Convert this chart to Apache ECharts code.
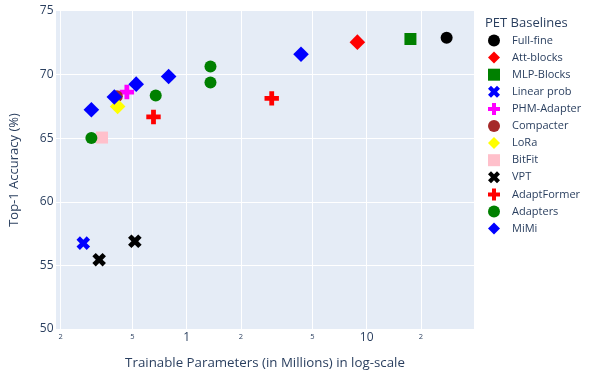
<!DOCTYPE html>
<html>
<head>
<meta charset="utf-8">
<script src="https://cdn.jsdelivr.net/npm/echarts@6/dist/echarts.min.js"></script>
<style>html,body{margin:0;padding:0;background:#fff}#c{width:590px;height:375px}</style>
</head>
<body>
<div id="c"></div>
<script>
// ---- data ----
var fullFine   = [[27.8, 72.9]];
var attBlocks  = [[8.88, 72.55]];
var mlpBlocks  = [[17.5, 72.8]];
var linearProb = [[0.267, 56.75]];
var phmAdapter = [[0.466, 68.63]];
var compacter  = [[0.41, 68.3]];
var lora       = [[0.414, 67.5]];
var bitFit     = [[0.339, 65.05]];
var vpt        = [[0.327, 55.45], [0.516, 56.9]];
var adaptFormer= [[0.655, 66.67], [2.97, 68.13]];
var adapters   = [[0.296, 65.02], [0.674, 68.36], [1.357, 69.38], [1.357, 70.63]];
var mimi       = [[0.296, 67.24], [0.397, 68.24], [0.525, 69.25], [0.795, 69.85], [4.32, 71.6]];
var xTicks = [0.2, 0.5, 1, 2, 5, 10, 20];
var yTicks = [50, 55, 60, 65, 70, 75];

var PLUS = 'path://M-1,-3 L1,-3 L1,-1 L3,-1 L3,1 L1,1 L1,3 L-1,3 L-1,1 L-3,1 L-3,-1 L-1,-1 Z';
var XSYM = 'path://M0,1 L1,2 L2,1 L1,0 L2,-1 L1,-2 L0,-1 L-1,-2 L-2,-1 L-1,0 L-2,1 L-1,2 Z';
var DIAM = 'path://M0,-1 L1,0 L0,1 L-1,0 Z';
var SQR  = 'path://M0,0 L1,0 L1,1 L0,1 Z';

function s(name, data, symbol, size, color) {
  return {
    name: name, type: 'scatter', data: data, symbol: symbol, symbolSize: size,
    symbolKeepAspect: true,
    itemStyle: { color: color, opacity: 1 },
    emphasis: { disabled: true }
  };
}

var series = [
  s('Full-fine', fullFine, 'circle', 12, '#000000'),
  s('Att-blocks', attBlocks, DIAM, 15.6, '#ff0000'),
  s('MLP-Blocks', mlpBlocks, SQR, 12, '#008000'),
  s('Linear prob', linearProb, XSYM, 13.6, '#0000ff'),
  s('PHM-Adapter', phmAdapter, PLUS, 14.4, '#ff00ff'),
  s('Compacter', compacter, 'circle', 12, '#a52a2a'),
  s('LoRa', lora, DIAM, 15.6, '#ffff00'),
  s('BitFit', bitFit, SQR, 12, '#ffc0cb'),
  s('VPT', vpt, XSYM, 13.6, '#000000'),
  s('AdaptFormer', adaptFormer, PLUS, 14.4, '#ff0000'),
  s('Adapters', adapters, 'circle', 12, '#008000'),
  s('MiMi', mimi, DIAM, 15.6, '#0000ff')
];

var txt = '#2a3f5f';
var font = 'Open Sans';
var chart = echarts.init(document.getElementById('c'), null, { renderer: 'canvas' });
chart.setOption({
  animation: false,
  textStyle: { fontFamily: font, color: txt },
  title: {
    text: 'PET Baselines', left: 480, top: 12,
    textStyle: { fontFamily: font, fontSize: 13, fontWeight: 'normal', color: txt }
  },
  legend: {
    orient: 'vertical', left: 483, top: 29.5,
    itemWidth: 26, itemHeight: 12, itemGap: 5.1,
    symbolKeepAspect: true,
    textStyle: { fontFamily: font, fontSize: 11, color: txt },
    selectedMode: false
  },
  grid: {
    left: 53, right: 116, top: 11, bottom: 45,
    show: true, backgroundColor: '#E5ECF6', borderWidth: 0, containLabel: false
  },
  xAxis: {
    type: 'log', logBase: 10, min: 0.1883, max: 39.45,
    name: 'Trainable Parameters (in Millions) in log-scale',
    nameLocation: 'middle', nameGap: 28,
    nameTextStyle: { fontFamily: font, fontSize: 13.3, color: txt },
    axisLine: { show: false },
    axisTick: { show: false, customValues: xTicks },
    axisLabel: {
      customValues: xTicks, margin: 3, color: txt, fontFamily: font,
      formatter: function (v) {
        var r = Math.round(v * 100) / 100;
        if (r === 1 || r === 10) return '{big|' + r + '}';
        var lead = String(Math.round(r / Math.pow(10, Math.floor(Math.log10(r) + 1e-9))));
        return '{small|' + lead + '}';
      },
      rich: {
        big: { fontSize: 12, fontFamily: font, color: txt },
        small: { fontSize: 7.5, fontFamily: font, color: txt, padding: [1, 0, 0, 0] }
      }
    },
    splitLine: { show: true, lineStyle: { color: '#ffffff', width: 1 } }
  },
  yAxis: {
    type: 'value', min: 50, max: 75, interval: 5,
    name: 'Top-1 Accuracy (%)', nameLocation: 'middle', nameGap: 35,
    nameTextStyle: { fontFamily: font, fontSize: 13, color: txt },
    axisLine: { show: false }, axisTick: { show: false },
    axisLabel: { margin: 2.5, fontSize: 12, color: txt, fontFamily: font },
    splitLine: { show: true, showMinLine: false, showMaxLine: false, lineStyle: { color: '#ffffff', width: 1 } }
  },
  series: series
});
</script>
</body>
</html>
